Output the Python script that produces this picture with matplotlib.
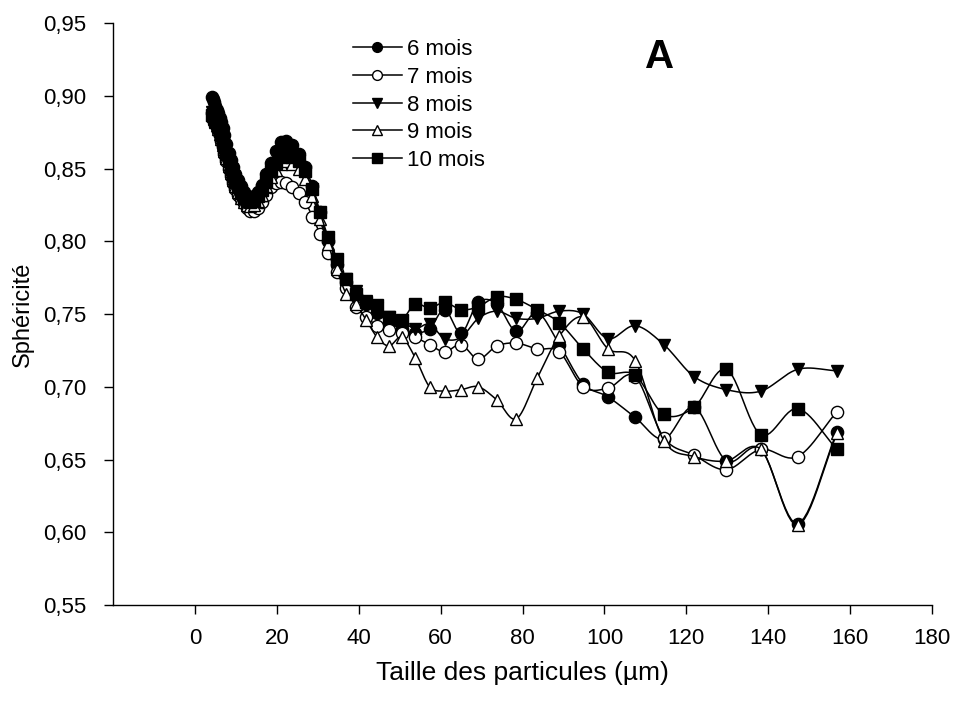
import matplotlib
matplotlib.use("Agg")
import matplotlib.pyplot as plt
import numpy as np
from matplotlib.ticker import FuncFormatter, MultipleLocator

plt.rcParams['font.family'] = ['Liberation Sans', 'DejaVu Sans']

# particle size classes (um)
taille = [4.1, 4.4, 4.6, 4.9, 5.3, 5.6, 6.0, 6.4, 6.8, 7.2,
          7.7, 8.2, 8.7, 9.3, 9.9, 10.5, 11.2, 11.9, 12.7, 13.5,
          14.4, 15.3, 16.3, 17.3, 18.5, 19.7, 20.9, 22.3, 23.7, 25.3,
          26.9, 28.7, 30.5, 32.5, 34.6, 36.9, 39.3, 41.8, 44.5, 47.4,
          50.5, 53.8, 57.3, 61.0, 65.0, 69.2, 73.7, 78.5, 83.6, 89.0,
          94.8, 100.9, 107.5, 114.5, 121.9, 129.8, 138.2, 147.2, 156.8]

mois6 = [0.899, 0.898, 0.896, 0.893, 0.890, 0.888, 0.885, 0.882, 0.878, 0.873,
         0.867, 0.861, 0.856, 0.851, 0.846, 0.842, 0.838, 0.834, 0.831, 0.830,
         0.831, 0.834, 0.839, 0.846, 0.854, 0.862, 0.868, 0.869, 0.866, 0.860,
         0.851, 0.838, 0.820, 0.800, 0.784, 0.772, 0.763, 0.757, 0.751, 0.744,
         0.740, 0.737, 0.740, 0.753, 0.737, 0.758, 0.757, 0.738, 0.751, 0.729,
         0.702, 0.693, 0.679, 0.664, 0.686, 0.649, 0.657, 0.606, 0.669]

mois7 = [0.888, 0.886, 0.884, 0.882, 0.879, 0.876, 0.873, 0.869, 0.865, 0.860,
         0.855, 0.850, 0.845, 0.840, 0.836, 0.832, 0.829, 0.826, 0.823, 0.821,
         0.821, 0.823, 0.827, 0.832, 0.837, 0.840, 0.841, 0.840, 0.837, 0.833,
         0.827, 0.817, 0.805, 0.792, 0.779, 0.768, 0.755, 0.748, 0.742, 0.739,
         0.737, 0.734, 0.729, 0.724, 0.729, 0.719, 0.728, 0.730, 0.726, 0.724,
         0.700, 0.699, 0.707, 0.665, 0.653, 0.643, 0.657, 0.652, 0.683]

mois8 = [0.889, 0.887, 0.885, 0.883, 0.881, 0.878, 0.875, 0.872, 0.868, 0.864,
         0.859, 0.854, 0.849, 0.844, 0.840, 0.836, 0.832, 0.829, 0.826, 0.825,
         0.825, 0.828, 0.832, 0.838, 0.845, 0.851, 0.855, 0.857, 0.855, 0.852,
         0.845, 0.833, 0.818, 0.801, 0.786, 0.774, 0.766, 0.759, 0.754, 0.748,
         0.745, 0.740, 0.743, 0.733, 0.734, 0.747, 0.752, 0.747, 0.747, 0.752,
         0.750, 0.733, 0.742, 0.729, 0.707, 0.698, 0.697, 0.712, 0.711]

mois9 = [0.887, 0.886, 0.884, 0.882, 0.880, 0.877, 0.874, 0.870, 0.866, 0.862,
         0.857, 0.852, 0.847, 0.842, 0.838, 0.834, 0.830, 0.827, 0.825, 0.824,
         0.825, 0.828, 0.832, 0.838, 0.844, 0.849, 0.853, 0.855, 0.853, 0.850,
         0.843, 0.831, 0.815, 0.798, 0.781, 0.764, 0.757, 0.746, 0.734, 0.728,
         0.734, 0.720, 0.700, 0.697, 0.698, 0.700, 0.691, 0.678, 0.706, 0.735,
         0.748, 0.726, 0.718, 0.663, 0.652, 0.649, 0.657, 0.605, 0.668]

mois10 = [0.887, 0.887, 0.885, 0.883, 0.881, 0.879, 0.876, 0.873, 0.869, 0.865,
          0.860, 0.855, 0.850, 0.845, 0.841, 0.837, 0.833, 0.830, 0.828, 0.827,
          0.828, 0.831, 0.835, 0.841, 0.848, 0.854, 0.858, 0.860, 0.858, 0.855,
          0.848, 0.836, 0.820, 0.803, 0.788, 0.774, 0.764, 0.758, 0.756, 0.748,
          0.746, 0.757, 0.754, 0.758, 0.753, 0.755, 0.762, 0.760, 0.753, 0.744,
          0.726, 0.710, 0.708, 0.681, 0.686, 0.712, 0.667, 0.685, 0.657]

labels = ['6 mois', '7 mois', '8 mois', '9 mois', '10 mois']
series = [mois6, mois7, mois8, mois9, mois10]
markers = ['o', 'o', 'v', '^', 's']
faces = ['black', 'white', 'black', 'white', 'black']


def spline(x, y, n=12):
    # Catmull-Rom curve through the points (smooth line like SigmaPlot)
    p = np.column_stack([x, y]).astype(float)
    p = np.vstack([2 * p[0] - p[1], p, 2 * p[-1] - p[-2]])
    out = []
    t = np.linspace(0, 1, n, endpoint=False)[:, None]
    for i in range(1, len(p) - 2):
        p0, p1, p2, p3 = p[i - 1], p[i], p[i + 1], p[i + 2]
        seg = 0.5 * ((2 * p1) + (-p0 + p2) * t + (2 * p0 - 5 * p1 + 4 * p2 - p3) * t ** 2
                     + (-p0 + 3 * p1 - 3 * p2 + p3) * t ** 3)
        out.append(seg)
    out.append(p[-2][None, :])
    out = np.vstack(out)
    return out[:, 0], out[:, 1]


fig = plt.figure(figsize=(9.54, 7.04), dpi=100)
ax = fig.add_axes([0.1185, 0.1406, 0.8585, 0.8267])

x = np.array(taille)
for k, (lab, yv, m, fc) in enumerate(zip(labels, series, markers, faces)):
    sx, sy = spline(x, np.array(yv))
    ax.plot(sx, sy, color='black', lw=1.1, zorder=2 + 2 * k)
    ax.plot(x, yv, linestyle='none', marker=m, ms=8.8, mfc=fc, mec='black',
            mew=1.0, zorder=3 + 2 * k)
    # legend proxy
    ax.plot([], [], color='black', lw=1.1, marker=m, ms=8.8, mfc=fc, mec='black',
            mew=1.0, label=lab)

ax.set_xlim(-20, 180)
ax.set_ylim(0.55, 0.95)
ax.set_xticks(np.arange(0, 181, 20))
ax.yaxis.set_major_locator(MultipleLocator(0.05))
ax.yaxis.set_major_formatter(FuncFormatter(lambda v, p: f"{v:.2f}".replace('.', ',')))

for s in ['top', 'right']:
    ax.spines[s].set_visible(False)
for s in ['left', 'bottom']:
    ax.spines[s].set_linewidth(1.0)
ax.tick_params(direction='out', length=6.5, width=1.0, labelsize=16)
ax.tick_params(axis='y', pad=13)
ax.tick_params(axis='x', pad=10)

ax.set_xlabel('Taille des particules (µm)', fontsize=19, labelpad=9)
ax.set_ylabel('Sphéricité', fontsize=17, labelpad=6)

ax.text(113.5, 0.9266, 'A', fontsize=29, fontweight='bold', ha='center', va='center')

ax.legend(loc='upper left', bbox_to_anchor=(0.358, 0.96), bbox_transform=fig.transFigure,
          frameon=False, fontsize=16, handlelength=2.2, handletextpad=0.25,
          labelspacing=0.3, markerscale=0.8, borderpad=0)

fig.savefig('out.png', dpi=100)
